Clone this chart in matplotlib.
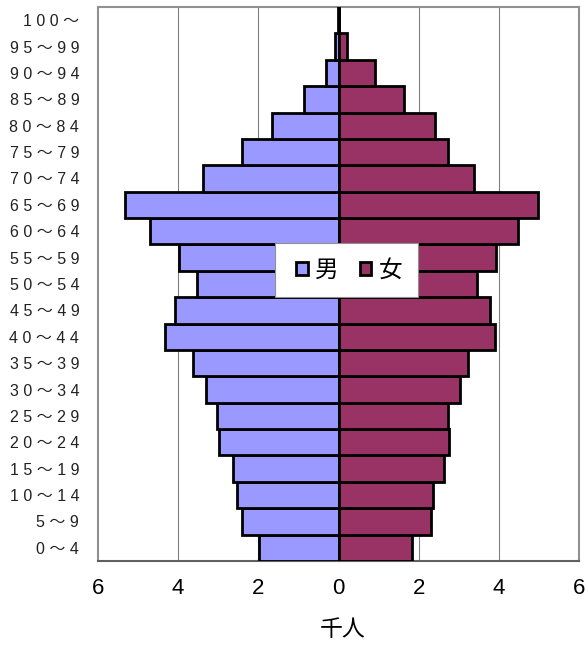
import matplotlib
matplotlib.use("Agg")
import matplotlib.pyplot as plt
from matplotlib.patches import Patch, Rectangle

age_groups = ["0～4", "5～9", "10～14", "15～19", "20～24", "25～29", "30～34",
              "35～39", "40～44", "45～49", "50～54", "55～59", "60～64", "65～69",
              "70～74", "75～79", "80～84", "85～89", "90～94", "95～99", "100～"]
male = [1.98, 2.40, 2.53, 2.63, 2.97, 3.04, 3.31, 3.62, 4.33, 4.09, 3.54,
        3.97, 4.71, 5.33, 3.37, 2.41, 1.65, 0.87, 0.32, 0.08, 0.02]
female = [1.84, 2.32, 2.37, 2.62, 2.76, 2.72, 3.02, 3.22, 3.91, 3.79, 3.46,
          3.92, 4.47, 4.98, 3.39, 2.74, 2.40, 1.64, 0.90, 0.22, 0.02]
xticks = [-6, -4, -2, 0, 2, 4, 6]
xticklabels = ["6", "4", "2", "0", "2", "4", "6"]
series_names = ["男", "女"]
xlabel = "千人"

male_color = "#9999FF"
female_color = "#993366"
cjk = ["Noto Sans CJK JP", "DejaVu Sans"]
latin = ["Liberation Sans", "DejaVu Sans"]
label_fonts = ["Liberation Sans", "Noto Sans CJK JP", "DejaVu Sans"]


def spaced(s):
    return " ".join(list(s))


W, H = 588, 651
L, R, T, B = 98, 579, 7, 561
fig = plt.figure(figsize=(W / 100, H / 100), dpi=100)
ax = fig.add_axes([L / W, 1 - B / H, (R - L) / W, (B - T) / H])

y = list(range(len(age_groups)))
ax.barh(y, [-v for v in male], height=1.0, color=male_color, edgecolor="black",
        linewidth=2.0, zorder=3)
ax.barh(y, female, height=1.0, color=female_color, edgecolor="black",
        linewidth=2.0, zorder=3)

ax.set_xlim(-6, 6)
ax.set_ylim(-0.5, len(age_groups) - 0.5)
ax.set_xticks(xticks)
ax.set_xticklabels(xticklabels, fontsize=16, family=latin)
ax.set_yticks(y)
ax.set_yticklabels([spaced(a) for a in age_groups], fontsize=11.5, family=label_fonts,
                   color="#222222")
ax.tick_params(axis="both", length=0)
ax.tick_params(axis="y", pad=13.5)
ax.tick_params(axis="x", pad=12)
for xv in [-4, -2, 2, 4]:
    ax.axvline(xv, color="#808080", linewidth=0.8, zorder=1)
for s in ["top", "left", "right"]:
    ax.spines[s].set_color("#909090")
    ax.spines[s].set_linewidth(1.5)
ax.spines["bottom"].set_color("#606060")
ax.spines["bottom"].set_linewidth(1.5)

ax.set_xlabel(xlabel, fontsize=16.5, family=cjk)
ax.xaxis.label.set_verticalalignment("top")
ax.xaxis.set_label_coords((343 - L) / (R - L), -(618 - B) / (B - T))


def ax_xy(px, py):
    return ((px - L) / (R - L), (B - py) / (B - T))


# legend background box
bx0, by0 = ax_xy(274.5, 297)
bx1, by1 = ax_xy(418, 243)
ax.add_patch(Rectangle((bx0, by0), bx1 - bx0, by1 - by0, transform=ax.transAxes,
                       facecolor="white", edgecolor="#909090", linewidth=0.8,
                       zorder=4))

handles = [Patch(facecolor=male_color, edgecolor="black", linewidth=2.0),
           Patch(facecolor=female_color, edgecolor="black", linewidth=2.0)]
leg = ax.legend(handles, series_names, ncol=2, loc="center",
                bbox_to_anchor=ax_xy(349, 270.5),
                prop={"family": cjk, "size": 17}, frameon=False,
                handlelength=0.5, handleheight=0.5,
                handletextpad=0.3, columnspacing=0.9, borderaxespad=0, borderpad=0)
leg.set_zorder(5)

fig.savefig("out.png", dpi=100)
